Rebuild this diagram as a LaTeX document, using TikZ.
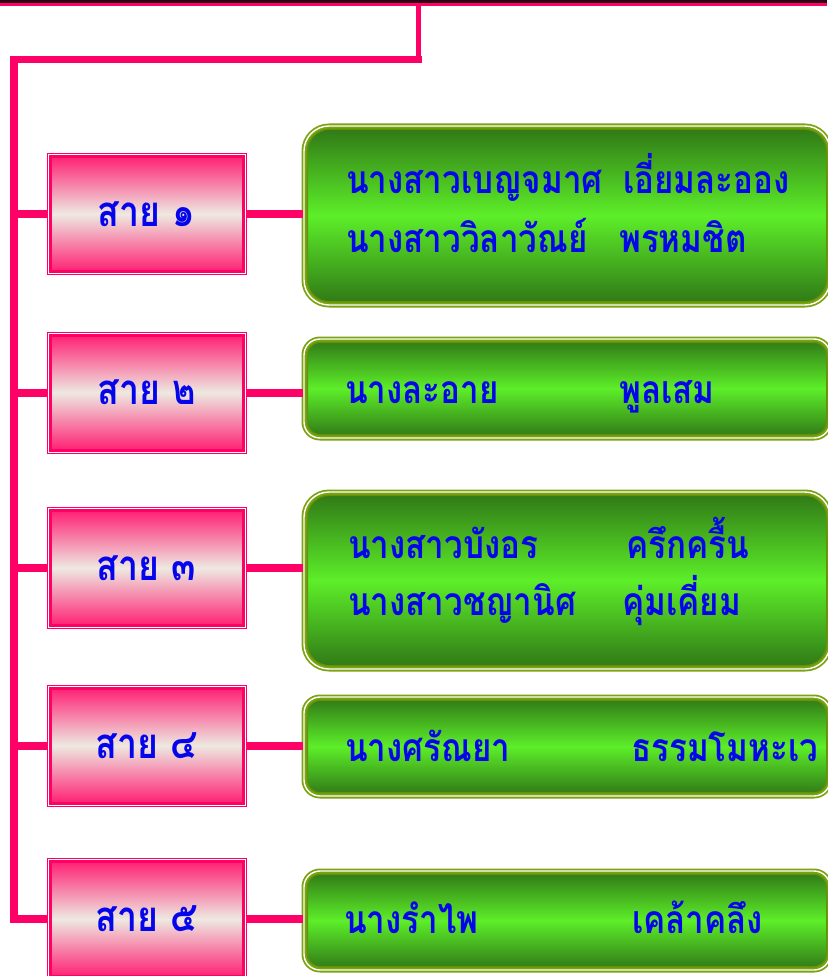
\documentclass[tikz,border=0pt]{standalone}
\usepackage{fontspec}
\newfontfamily\thaifont[Script=Thai,FakeStretch=0.85]{Loma}
\definecolor{pinkc}{HTML}{FF0066}
\definecolor{pinktop}{HTML}{FF1A70}
\definecolor{beige}{HTML}{EEE9E1}
\definecolor{bandc}{HTML}{2E0016}
\definecolor{oliveout}{HTML}{7BA312}
\definecolor{olivein}{HTML}{64930A}
\definecolor{gdark}{HTML}{2F7616}
\definecolor{gbright}{HTML}{5DEE29}
\definecolor{textblue}{RGB}{5,5,235}
\begin{document}
\begin{tikzpicture}[x=1pt,y=-1pt,
  pinkbox/.style={draw=pinkc, line width=1pt, double=white, double distance=1pt,
    top color=pinktop, bottom color=pinktop, middle color=beige,
    minimum width=197pt, minimum height=119pt, inner sep=0pt,
    font=\thaifont\bfseries\fontsize{42}{44}\selectfont, text=textblue,
    path picture={\draw[pinkc, line width=7pt] (path picture bounding box.north west) rectangle (path picture bounding box.south east);}},
  greenbox/.style={draw=oliveout, line width=1.8pt, double=white, double distance=1.4pt,
    top color=gdark, bottom color=gdark, middle color=gbright,
    minimum width=526pt, inner sep=0pt, rounded corners=#1,
    path picture={\draw[olivein, line width=8pt, rounded corners=#1] (path picture bounding box.north west) rectangle (path picture bounding box.south east);}},
  namelbl/.style={anchor=base west, inner sep=0pt, text=textblue,
    font=\thaifont\bfseries\fontsize{39}{42}\selectfont},
  wire/.style={draw=pinkc, line width=7.5pt},
  branch/.style={draw=pinkc, line width=8pt}
]
\useasboundingbox (0,0) rectangle (827,976);
\fill[white] (0,0) rectangle (827,976);
% top band
\fill[bandc] (0,0) rectangle (827,3.5);
\fill[pinkc] (0,3.5) rectangle (827,6.5);

% pink boxes
\node[pinkbox] (s1) at (146.5,214) {สาย ๑};
\node[pinkbox] (s2) at (146.5,392.5) {สาย ๒};
\node[pinkbox] (s3) at (146.5,568) {สาย ๓};
\node[pinkbox] (s4) at (146.5,745.5) {สาย ๔};
\node[pinkbox] (s5) at (146.5,919) {สาย ๕};

% green boxes
\node[greenbox=25pt, minimum height=179pt] (g1) at (567,215.5) {};
\node[greenbox=16pt, minimum height=99pt] (g2) at (567,388.5) {};
\node[greenbox=25pt, minimum height=177pt] (g3) at (567,580.5) {};
\node[greenbox=16pt, minimum height=99pt] (g4) at (567,746.5) {};
\node[greenbox=16pt, minimum height=99pt] (g5) at (567,920.5) {};

% names
\node[namelbl] (t1a) at (346,194) {นางสาวเบญจมาศ};
\node[namelbl] (t1b) at (623,194) {เอี่ยมละออง};
\node[namelbl] (t1c) at (346,252) {นางสาววิลาวัณย์};
\node[namelbl] (t1d) at (619,252) {พรหมชิต};
\node[namelbl] (t2a) at (345,403) {นางละอาย};
\node[namelbl] (t2b) at (619,403) {พูลเสม};
\node[namelbl] (t3a) at (348,558) {นางสาวบังอร};
\node[namelbl] (t3b) at (626,558) {ครึกครื้น};
\node[namelbl] (t3c) at (348,615) {นางสาวชญานิศ};
\node[namelbl] (t3d) at (622,615) {คุ่มเคี่ยม};
\node[namelbl] (t4a) at (345,761) {นางศรัณยา};
\node[namelbl] (t4b) at (631,761) {ธรรมโมหะเว};
\node[namelbl] (t5a) at (344,933) {นางรำไพ};
\node[namelbl] (t5b) at (632,933) {เคล้าคลึง};

% spine
\coordinate (top) at (418,5);
\coordinate (tj) at (418,59.5);
\coordinate (lj) at (14,59.5);
\draw[draw=pinkc, line width=5pt] (top) -- (tj);
\draw[wire, line join=miter] ([xshift=3.5pt]tj) -- (lj) -- (lj |- s5.west) -- (s5.west);
\foreach \i in {1,2,3,4}{
  \draw[branch] (s\i.west) -- (s\i.west -| lj);
}
\foreach \i in {1,2,3,4,5}{
  \draw[branch] (s\i.east) -- (s\i.east -| g\i.west);
}
\end{tikzpicture}
\end{document}
